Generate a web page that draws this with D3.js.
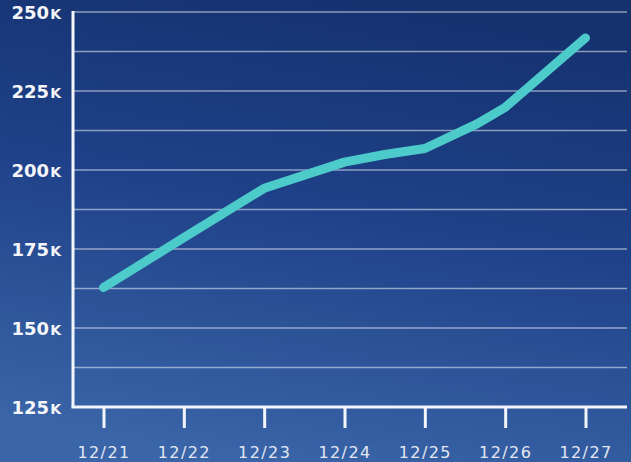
<!DOCTYPE html>
<html>
<head>
<meta charset="utf-8">
<script src="https://cdn.jsdelivr.net/npm/d3@7"></script>
<style>
  html, body { margin: 0; padding: 0; background: #1d3b82; }
  svg { display: block; }
</style>
</head>
<body>
<div id="chart"></div>
<script>
// Daily date labels shown on the x axis
const dates = ["12/21", "12/22", "12/23", "12/24", "12/25", "12/26", "12/27"];
// Sample positions along the day axis (day index; some samples fall between days)
const sampleDay = [0, 1, 2, 3, 3.5, 4, 4.65, 5, 6];
// Values at each sample, in thousands
const sampleValue = [162.8, 178.6, 194.2, 202.5, 204.9, 206.8, 214.6, 219.8, 241.8];
// Y axis ticks (labelled) and gridlines, in thousands
const yTicks = [125, 150, 175, 200, 225, 250];
const yGrid = [137.5, 150, 162.5, 175, 187.5, 200, 212.5, 225, 237.5, 250];

const W = 631, H = 462;
const svg = d3.select("#chart").append("svg").attr("width", W).attr("height", H);

// Background gradient: deep navy at the top, lighter blue towards the bottom-left
const defs = svg.append("defs");
const bg = defs.append("linearGradient").attr("id", "bg")
  .attr("x1", "0.62").attr("y1", "0").attr("x2", "0.38").attr("y2", "1");
bg.append("stop").attr("offset", "0%").attr("stop-color", "#15326f");
bg.append("stop").attr("offset", "45%").attr("stop-color", "#1f4189");
bg.append("stop").attr("offset", "100%").attr("stop-color", "#3a65a8");
svg.append("rect").attr("width", W).attr("height", H).attr("fill", "url(#bg)");

const x = d3.scaleLinear().domain([0, 6]).range([103.5, 585.5]);
const y = d3.scaleLinear().domain([125, 250]).range([407, 12]);
const xLeft = 73, xRight = 627;
const font = "'DejaVu Sans', Verdana, sans-serif";

// Horizontal gridlines
svg.append("g").selectAll("line").data(yGrid).join("line")
  .attr("x1", xLeft).attr("x2", xRight)
  .attr("y1", d => y(d)).attr("y2", d => y(d))
  .attr("stroke", "#ffffff").attr("stroke-opacity", 0.5).attr("stroke-width", 1.5);

// Y axis line and labels
svg.append("line").attr("x1", xLeft).attr("x2", xLeft).attr("y1", y(250) - 1).attr("y2", y(125))
  .attr("stroke", "#f2f5fa").attr("stroke-width", 3);

const yl = svg.append("g").selectAll("text").data(yTicks).join("text")
  .attr("x", 61).attr("y", d => y(d) + 7)
  .attr("text-anchor", "end")
  .attr("fill", "#f4f6fa")
  .attr("font-family", font)
  .attr("font-weight", 700)
  .attr("font-size", 18);
yl.append("tspan").text(d => d3.format("d")(d));
yl.append("tspan").attr("font-size", 14).attr("dx", 1).text("K");

// X axis: baseline, ticks, labels
const xAxis = d3.axisBottom(x)
  .tickValues(d3.range(dates.length))
  .tickFormat(i => dates[i])
  .tickSize(21)
  .tickSizeOuter(0)
  .tickPadding(19);
const gx = svg.append("g").attr("transform", `translate(0,${y(125)})`).call(xAxis);
gx.select(".domain").remove();
gx.selectAll(".tick line").attr("stroke", "#f2f5fa").attr("stroke-width", 3);
gx.selectAll(".tick text")
  .attr("fill", "#e2e8f3")
  .attr("font-family", font)
  .attr("font-weight", 400)
  .attr("font-size", 16)
  .attr("letter-spacing", 1.4);
svg.append("line").attr("x1", xLeft - 1.5).attr("x2", xRight).attr("y1", y(125)).attr("y2", y(125))
  .attr("stroke", "#f2f5fa").attr("stroke-width", 3);

// Value line
const pts = sampleDay.map((d, i) => [d, sampleValue[i]]);
svg.append("path")
  .datum(pts)
  .attr("fill", "none")
  .attr("stroke", "#4ccbca")
  .attr("stroke-width", 9)
  .attr("stroke-linecap", "round")
  .attr("stroke-linejoin", "round")
  .attr("d", d3.line().x(d => x(d[0])).y(d => y(d[1])));
</script>
</body>
</html>
